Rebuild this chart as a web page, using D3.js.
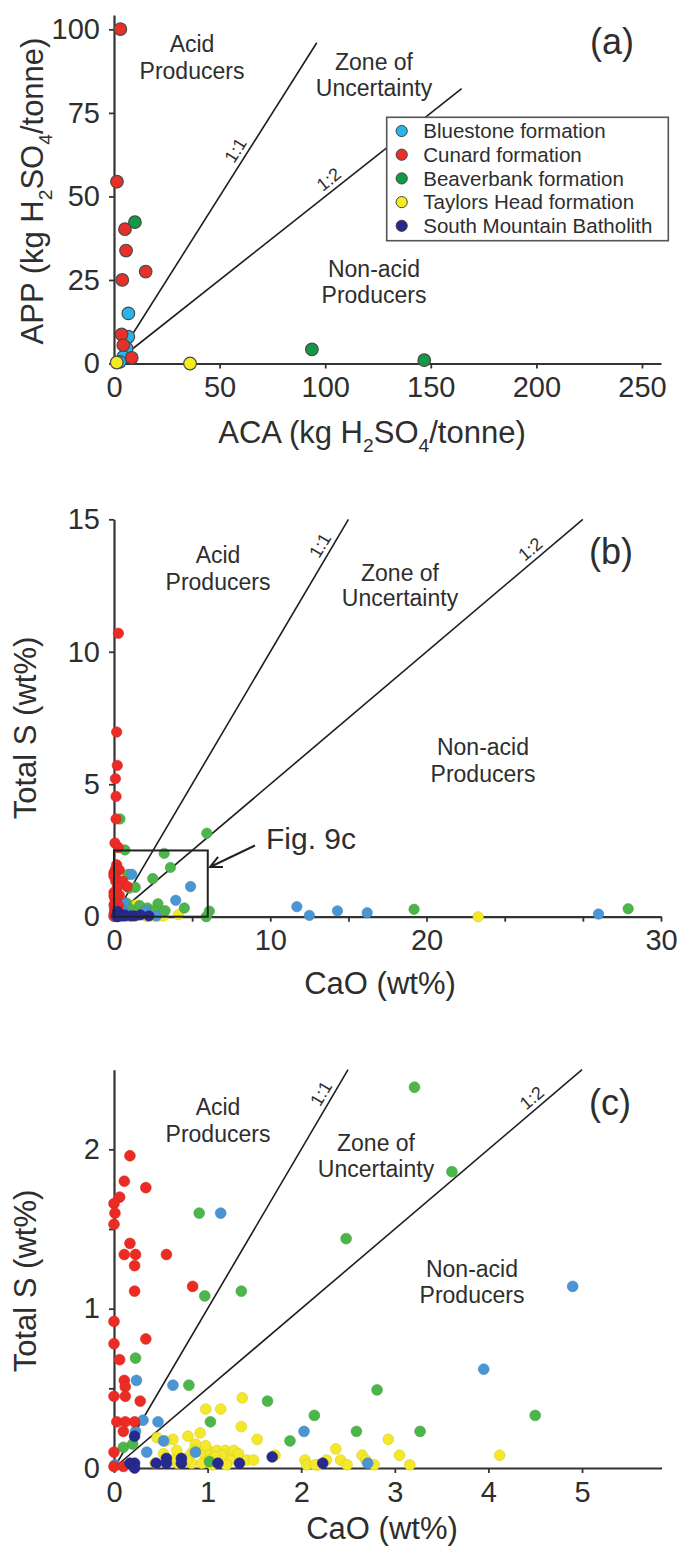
<!DOCTYPE html>
<html>
<head>
<meta charset="utf-8">
<script src="https://cdn.jsdelivr.net/npm/d3@7"></script>
<style>
  body { margin: 0; background: #fff; }
  svg { display: block; font-family: "Liberation Sans", Arial, Helvetica, sans-serif; }
</style>
</head>
<body>
<svg id="fig" width="679" height="1549"></svg>
<script>
// ---------------- data ----------------
const formations = ["Bluestone formation", "Cunard formation", "Beaverbank formation",
                    "Taylors Head formation", "South Mountain Batholith"];

// ACA vs APP (kg H2SO4/tonne)
const acaAppBluestone = [[6.8,15.0],[6.8,8.0],[6.0,4.5],[4.4,2.0],[2.8,0.5]];
const acaAppCunard = [[3.0,100.1],[1.4,54.4],[5.2,40.2],[5.7,33.8],[15.0,27.5],[3.9,25.0],
                      [3.6,8.7],[4.4,5.5],[8.4,1.7]];
const acaAppBeaverbank = [[9.9,42.3],[93.7,4.2],[146.9,1.0]];
const acaAppTaylorsHead = [[1.3,0.3],[36.0,0.0]];
const acaAppSouthMountain = [];

// CaO vs total S (wt%)
const caoSBluestone = [[1.14,1.60],[0.24,0.55],[0.63,0.52],[0.47,0.29],[0.31,0.30],[0.53,0.17],
  [2.03,0.23],[0.87,0.10],[0.35,0.10],[0.01,0.02],[0.23,0.23],[4.90,1.14],[3.95,0.62],[2.71,0.03],
  [11.7,0.38],[12.5,0.05],[14.3,0.22],[16.2,0.15],[31.0,0.10]];
const caoSCunard = [[0.17,1.96],[0.11,1.80],[0.34,1.76],[0.06,1.70],[0.00,1.66],[0.01,1.60],
  [0.00,1.53],[0.17,1.41],[0.11,1.34],[0.23,1.34],[0.22,1.27],[0.56,1.34],[0.84,1.14],[0.22,1.11],
  [0.00,0.92],[0.00,0.78],[0.34,0.81],[0.06,0.68],[0.11,0.55],[0.12,0.51],[0.00,0.45],[0.12,0.45],
  [0.28,0.42],[0.03,0.29],[0.12,0.29],[0.22,0.29],[0.10,0.23],[0.00,0.10],[0.00,0.01],[0.10,0.01],
  [0.28,10.7],[0.17,6.97],[0.21,5.71],[0.09,5.21],[0.13,4.54],[0.13,3.69],[0.06,2.78],[0.28,2.61]];
const caoSBeaverbank = [[0.91,1.60],[0.97,1.08],[1.36,1.11],[0.23,0.69],[0.80,0.52],[1.64,0.42],
  [1.03,0.29],[2.14,0.33],[1.88,0.17],[0.10,0.13],[0.20,0.15],[1.02,0.04],[3.21,2.39],[3.61,1.86],
  [2.48,1.44],[2.81,0.49],[4.50,0.33],[2.59,0.23],[3.27,0.23],[0.38,3.69],[0.70,2.52],[5.94,3.15],
  [6.10,0.21],[5.90,0.00],[19.2,0.28],[32.9,0.30]];
const caoSTaylorsHead = [[1.37,0.44],[0.98,0.37],[1.14,0.37],[1.36,0.26],[1.53,0.18],[0.63,0.18],
  [0.46,0.19],[0.92,0.22],[0.79,0.20],[0.87,0.15],[0.85,0.11],[0.81,0.08],[0.94,0.10],[1.03,0.10],
  [1.10,0.11],[1.19,0.11],[1.28,0.11],[1.33,0.09],[1.42,0.05],[1.49,0.05],[1.01,0.05],[1.13,0.05],
  [1.24,0.05],[0.83,0.03],[0.94,0.03],[0.78,0.05],[0.53,0.09],[0.44,0.03],[0.67,0.11],[0.55,0.17],
  [1.72,0.08],[2.04,0.05],[2.06,0.02],[2.18,0.02],[2.27,0.05],[2.37,0.12],[3.05,0.08],[4.12,0.08],
  [2.65,0.08],[2.42,0.05],[2.69,0.05],[2.49,0.02],[2.78,0.02],[3.16,0.02],[2.93,0.18],[2.15,0.02],
  [1.05,0.02],[1.20,0.02],[0.68,0.03],[1.15,0.08],[0.98,0.14],[1.08,0.07],[0.62,0.05],[23.3,0.00]];
const caoSSouthMountain = [[0.22,0.20],[0.22,0.03],[0.17,0.03],[0.45,0.03],[0.56,0.06],[0.56,0.03],
  [0.72,0.06],[0.72,0.03],[1.11,0.03],[1.34,0.03],[1.69,0.07],[2.23,0.03],[0.22,0.00]];

// axis ticks
const ticksAX = [0, 50, 100, 150, 200, 250];
const ticksAY = [0, 25, 50, 75, 100];
const ticksBX = [0, 5, 10, 15, 20, 25, 30, 35];
const labelsBX = {0: "0", 10: "10", 20: "20", 35: "30"};
const ticksBY = [0, 5, 10, 15];
const ticksCX = [0, 1, 2, 3, 4, 5];
const ticksCY = [0, 0.5, 1, 1.5, 2];
const labelsCY = {0: "0", 1: "1", 2: "2"};

// ratio lines (slope) and the extent of the zoomed area shown in (c)
const ratioSlopes = [1, 0.5];
const ratioNames = ["1:1", "1:2"];
const zoomBox = [6, 2.5];

// ---------------- styling ----------------
const colorsA  = ["#2ab4e8", "#e8302b", "#109a48", "#f4ec1e", "#25288c"];
const colorsBC = ["#4a96d4", "#ed2b25", "#4cb64a", "#f4e82a", "#262a8f"];
const INK = "#2e2e2e";

const svg = d3.select("#fig");
svg.append("rect").attr("width", 679).attr("height", 1549).attr("fill", "#fff");

function subText(sel, parts, size) {
  // parts: [text, isSub]
  const sub = size * 0.62, shift = size * 0.28;
  let down = false;
  parts.forEach(([t, isSub]) => {
    const ts = sel.append("tspan").text(t);
    if (isSub) { ts.attr("font-size", sub).attr("dy", shift); down = true; }
    else { ts.attr("font-size", size); if (down) { ts.attr("dy", -shift); down = false; } }
  });
}

function drawPanel(cfg) {
  const g = svg.append("g");
  const x = d3.scaleLinear().domain(cfg.xDomain).range(cfg.xRange);
  const y = d3.scaleLinear().domain(cfg.yDomain).range(cfg.yRange);

  // ratio lines through the origin
  ratioSlopes.forEach((s, i) => {
    const xe = cfg.lineEnds[i];
    g.append("line")
      .attr("x1", x(0)).attr("y1", y(0))
      .attr("x2", x(xe)).attr("y2", y(xe * s))
      .attr("stroke", "#1e1e1e").attr("stroke-width", 1.6);
    // label sitting on the upper-left side of the line
    const xl = cfg.lineLabelAt[i];
    const px = x(xl), py = y(xl * s);
    const ang = Math.atan2(y(xe * s) - y(0), x(xe) - x(0)) * 180 / Math.PI;
    g.append("text")
      .attr("transform", `translate(${px},${py}) rotate(${ang})`)
      .attr("y", -5).attr("text-anchor", "middle")
      .attr("font-size", 18).attr("fill", INK)
      .text(ratioNames[i]);
  });

  // axes
  const ax = d3.axisBottom(x).tickValues(cfg.xTicks).tickSize(5).tickSizeOuter(0).tickPadding(8)
    .tickFormat(cfg.xFormat || (d => d));
  const ay = d3.axisLeft(y).tickValues(cfg.yTicks).tickSize(5).tickSizeOuter(0).tickPadding(9)
    .tickFormat(cfg.yFormat || (d => d));
  const gx = g.append("g").attr("transform", `translate(0,${cfg.yRange[0]})`).call(ax);
  const gy = g.append("g").attr("transform", `translate(${cfg.xRange[0]},0)`).call(ay);
  [gx, gy].forEach(a => {
    a.select(".domain").attr("stroke", "#333").attr("stroke-width", 2.2);
    a.selectAll(".tick line").attr("stroke", "#333").attr("stroke-width", 1.8);
    a.selectAll(".tick text").attr("font-size", 29).attr("fill", INK)
      .attr("font-family", "Liberation Sans, Arial, sans-serif");
  });

  // points
  const [xmax, ymax] = [cfg.xDomain[1], cfg.yDomain[1]];
  cfg.order.forEach(k => {
    const pts = cfg.series[k].filter(d => d[0] <= xmax && d[1] <= ymax);
    g.append("g").selectAll("circle").data(pts).join("circle")
      .attr("cx", d => x(d[0])).attr("cy", d => y(d[1]))
      .attr("r", cfg.r)
      .attr("fill", cfg.colors[k])
      .attr("stroke", cfg.stroke ? cfg.stroke : d3.color(cfg.colors[k]).darker(0.35))
      .attr("stroke-width", cfg.strokeWidth);
  });

  // region labels
  cfg.regions.forEach(rg => {
    const t = g.append("text").attr("text-anchor", "middle").attr("font-size", 23).attr("fill", INK);
    rg.lines.forEach((ln, i) => t.append("tspan").attr("x", rg.x).attr("y", rg.y[i]).text(ln));
  });

  // panel letter
  g.append("text").attr("x", cfg.letter.x).attr("y", cfg.letter.y).attr("text-anchor", "middle")
    .attr("font-size", 36).attr("fill", INK).text(cfg.letter.t);

  // axis titles
  const xt = g.append("text").attr("x", cfg.xTitle.x).attr("y", cfg.xTitle.y)
    .attr("text-anchor", "middle").attr("fill", INK);
  subText(xt, cfg.xTitle.parts, 31);
  const yt = g.append("text")
    .attr("transform", `translate(${cfg.yTitle.x},${cfg.yTitle.y}) rotate(-90)`)
    .attr("text-anchor", "middle").attr("fill", INK);
  subText(yt, cfg.yTitle.parts, 31);

  return {g, x, y};
}

// ---------- panel (a): APP vs ACA ----------
const pA = drawPanel({
  xDomain: [0, 259], xRange: [114, 661],
  yDomain: [0, 104.3], yRange: [363.5, 15],
  xTicks: ticksAX, yTicks: ticksAY,
  lineEnds: [96, 164.6], lineLabelAt: [62, 105],
  series: [acaAppBluestone, acaAppCunard, acaAppBeaverbank, acaAppTaylorsHead, acaAppSouthMountain],
  order: [0, 2, 3, 4, 1],
  colors: colorsA, r: 6.3, stroke: "#4a4a4a", strokeWidth: 1.2,
  regions: [
    {x: 192, y: [52, 79], lines: ["Acid", "Producers"]},
    {x: 374, y: [70, 96], lines: ["Zone of", "Uncertainty"]},
    {x: 374, y: [277, 303], lines: ["Non-acid", "Producers"]}
  ],
  letter: {x: 612, y: 54, t: "(a)"},
  xTitle: {x: 372, y: 443, parts: [["ACA (kg H", false], ["2", true], ["SO", false], ["4", true], ["/tonne)", false]]},
  yTitle: {x: 43, y: 191, parts: [["APP (kg H", false], ["2", true], ["SO", false], ["4", true], ["/tonne)", false]]}
});

// legend
const lg = pA.g.append("g");
lg.append("rect").attr("x", 386.7).attr("y", 117.3).attr("width", 281.6).attr("height", 123.4)
  .attr("fill", "#fff").attr("stroke", "#555").attr("stroke-width", 1.6);
formations.forEach((f, i) => {
  const cy = 131 + i * 23.7;
  lg.append("circle").attr("cx", 401.7).attr("cy", cy).attr("r", 5.6)
    .attr("fill", colorsA[i]).attr("stroke", "#444").attr("stroke-width", 1);
  lg.append("text").attr("x", 423.3).attr("y", cy + 7.2).attr("font-size", 20.5).attr("fill", INK).text(f);
});

// ---------- panel (b): total S vs CaO ----------
const pB = drawPanel({
  xDomain: [0, 35], xRange: [114, 661],
  yDomain: [0, 15], yRange: [916.7, 519.3],
  xTicks: ticksBX, yTicks: ticksBY,
  xFormat: d => labelsBX[d] || "",
  lineEnds: [15, 30], lineLabelAt: [13.8, 27.1],
  series: [caoSBluestone, caoSCunard, caoSBeaverbank, caoSTaylorsHead, caoSSouthMountain],
  order: [3, 2, 0, 1, 4],
  colors: colorsBC, r: 5.2, strokeWidth: 0.6,
  regions: [
    {x: 218, y: [563, 590], lines: ["Acid", "Producers"]},
    {x: 400, y: [581, 606], lines: ["Zone of", "Uncertainty"]},
    {x: 483, y: [755, 782], lines: ["Non-acid", "Producers"]}
  ],
  letter: {x: 611, y: 564, t: "(b)"},
  xTitle: {x: 380, y: 994, parts: [["CaO (wt%)", false]]},
  yTitle: {x: 36, y: 728, parts: [["Total S (wt%)", false]]}
});

// outline of the area enlarged in (c), with its call-out
pB.g.append("rect")
  .attr("x", pB.x(0)).attr("y", pB.y(zoomBox[1]))
  .attr("width", pB.x(zoomBox[0]) - pB.x(0)).attr("height", pB.y(0) - pB.y(zoomBox[1]))
  .attr("fill", "none").attr("stroke", "#222").attr("stroke-width", 2);
{
  const tip = [210, 867], tail = [255, 845.5];
  const a = Math.atan2(tail[1] - tip[1], tail[0] - tip[0]);
  const L = 13, w = 0.45;
  pB.g.append("path")
    .attr("d", `M${tail[0]},${tail[1]}L${tip[0]},${tip[1]}` +
      `M${tip[0] + L * Math.cos(a + w)},${tip[1] + L * Math.sin(a + w)}L${tip[0]},${tip[1]}` +
      `L${tip[0] + L * Math.cos(a - w)},${tip[1] + L * Math.sin(a - w)}`)
    .attr("fill", "none").attr("stroke", "#222").attr("stroke-width", 2);
  pB.g.append("text").attr("x", 266).attr("y", 849).attr("font-size", 30).attr("fill", INK).text("Fig. 9c");
}

// ---------- panel (c): enlarged total S vs CaO ----------
drawPanel({
  xDomain: [0, 5.85], xRange: [114, 661.6],
  yDomain: [0, 2.5], yRange: [1468, 1069.7],
  xTicks: ticksCX, yTicks: ticksCY,
  yFormat: d => labelsCY[d] || "",
  lineEnds: [2.5, 5.0], lineLabelAt: [2.315, 4.54],
  series: [caoSBluestone, caoSCunard, caoSBeaverbank, caoSTaylorsHead, caoSSouthMountain],
  order: [3, 2, 0, 1, 4],
  colors: colorsBC, r: 5.4, strokeWidth: 0.6,
  regions: [
    {x: 218, y: [1115, 1142], lines: ["Acid", "Producers"]},
    {x: 376, y: [1151, 1177], lines: ["Zone of", "Uncertainty"]},
    {x: 472, y: [1277, 1303], lines: ["Non-acid", "Producers"]}
  ],
  letter: {x: 610, y: 1115, t: "(c)"},
  xTitle: {x: 382, y: 1539, parts: [["CaO (wt%)", false]]},
  yTitle: {x: 36, y: 1281, parts: [["Total S (wt%)", false]]}
});
</script>
</body>
</html>
